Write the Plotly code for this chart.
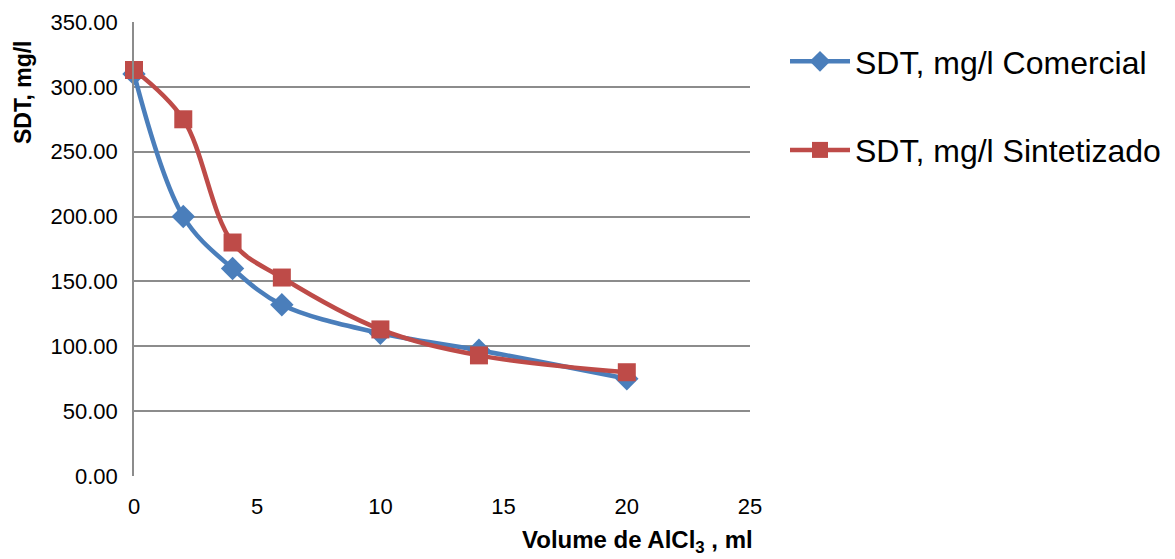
import plotly.graph_objects as go

x_vals = [0, 2, 4, 6, 10, 14, 20]
comercial = [310, 200, 160, 132, 110, 97, 75]
sintetizado = [313, 275, 180, 153, 113, 93, 80]
name_com = "SDT, mg/l Comercial"
name_sin = "SDT, mg/l Sintetizado"
y_ticks = [0, 50, 100, 150, 200, 250, 300, 350]
x_ticks = [0, 5, 10, 15, 20, 25]

# page body has an 8px margin; figure sized to fill the rest of the window
OFF = 8
W, H = 1175 - OFF, 559 - OFF
L, R, T, B = 134 - OFF, 1175 - 750, 22 - OFF, 559 - 476
pw, ph = W - L - R, H - T - B


def px2paper(px, py):
    return (px - OFF - L) / pw, (H + OFF - B - py) / ph


fig = go.Figure()
fig.add_trace(go.Scatter(
    x=x_vals, y=comercial, name=name_com, mode="lines+markers", legendgroup="a",
    line=dict(color="#4A7EBB", width=4.5, shape="spline", smoothing=1),
    marker=dict(symbol="diamond", size=18, color="#4A7EBB"),
    cliponaxis=False,
))
fig.add_trace(go.Scatter(
    x=x_vals, y=sintetizado, name=name_sin, mode="lines+markers", legendgroup="b",
    line=dict(color="#BE4B48", width=4.5, shape="spline", smoothing=1),
    marker=dict(symbol="square", size=18, color="#BE4B48"),
    cliponaxis=False,
))

lx, ly = px2paper(785, 34)
ax_x, ax_y = px2paper(637, 541)
ay_x, ay_y = px2paper(23, 92)

fig.update_layout(
    width=W, height=H,
    margin=dict(l=L, r=R, t=T, b=B, autoexpand=False),
    paper_bgcolor="white", plot_bgcolor="white",
    font=dict(family="Liberation Sans, Arial, sans-serif", color="black"),
    legend=dict(
        x=lx, y=ly, xanchor="left", yanchor="top",
        font=dict(size=32, family="Liberation Sans, Arial, sans-serif"),
        tracegroupgap=44, itemwidth=60,
        bgcolor="rgba(0,0,0,0)",
    ),
    xaxis=dict(
        range=[0, 25], tickvals=x_ticks, showgrid=False, zeroline=False,
        showline=False, ticks="", tickfont=dict(size=22), ticklabelstandoff=15,
        automargin=False,
    ),
    yaxis=dict(
        range=[0, 350], tickvals=y_ticks, tickformat=".2f",
        showgrid=True, gridcolor="#8C8C8C", gridwidth=1.5,
        zeroline=False, showline=True, linecolor="#8C8C8C", linewidth=1.5,
        ticks="", tickfont=dict(size=22), ticklabelstandoff=10,
        automargin=False,
    ),
    annotations=[
        dict(text="<b>Volume de AlCl<sub>3</sub> , ml</b>", x=ax_x, y=ax_y,
             xref="paper", yref="paper", showarrow=False,
             font=dict(size=24), xanchor="center", yanchor="middle"),
        dict(text="<b>SDT, mg/l</b>", x=ay_x, y=ay_y, textangle=-90,
             xref="paper", yref="paper", showarrow=False,
             font=dict(size=23), xanchor="center", yanchor="middle"),
    ],
)

fig.write_html("out.html")
